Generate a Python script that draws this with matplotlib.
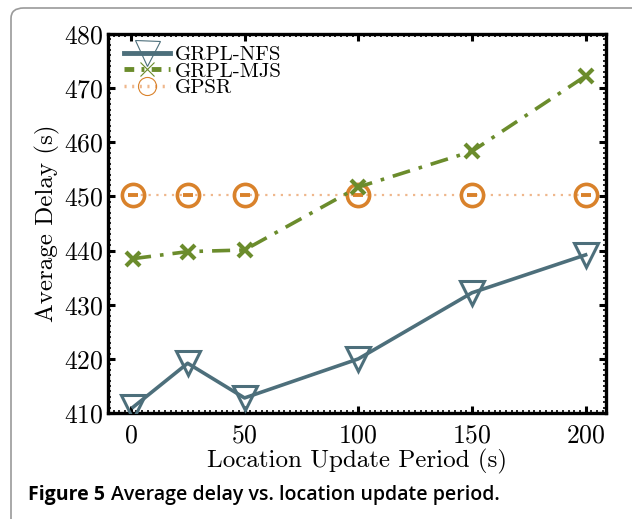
import matplotlib
matplotlib.use("Agg")
import matplotlib.pyplot as plt
from matplotlib.patches import FancyBboxPatch
from matplotlib.ticker import MultipleLocator

# data
periods = [1, 25, 50, 100, 150, 200]
nfs = [411.1, 419.2, 412.8, 420.0, 432.2, 439.2]
mjs = [438.5, 439.8, 440.1, 451.7, 458.3, 472.2]
gpsr = [450.2, 450.2, 450.2, 450.2, 450.2, 450.2]

plt.rcParams['font.family'] = 'cmr10'
plt.rcParams['axes.formatter.use_mathtext'] = True

fig = plt.figure(figsize=(6.32, 5.19), dpi=100)
ax = fig.add_axes([0.171, 0.204, 0.788, 0.731])

c_nfs = "#4d6f7b"
c_mjs = "#6b8c2c"
c_gpsr = "#d9822b"

ax.plot(periods, gpsr, linestyle=(0, (1, 2.5)), color="#efb78c", lw=1.6, zorder=2)
ax.plot(periods, gpsr, linestyle="none", marker="o", ms=16, mfc="none",
        mec=c_gpsr, mew=2.6, zorder=3)
ax.plot(periods, gpsr, linestyle="none", marker="_", ms=7, mec=c_gpsr,
        mew=2.8, zorder=3)
ax.plot(periods, mjs, linestyle=(0, (5, 2.5, 1, 2.5)), color=c_mjs, lw=2.6,
        marker="x", ms=10, mew=3, zorder=4)
ax.plot(periods, nfs, linestyle="-", color=c_nfs, lw=2.6, marker="v", ms=17,
        mfc="none", mew=2.2, zorder=5)

# legend proxies
h1, = ax.plot([], [], "-", color=c_nfs, lw=3.5, marker="v", ms=18, mfc="none", mew=0.8)
h2, = ax.plot([], [], linestyle=(0, (2, 1.5, 0.6, 1.5)), color=c_mjs, lw=3.5,
              marker="x", ms=10, mew=0.8)
h3, = ax.plot([], [], linestyle=(0, (0.6, 1.6)), color="#efb78c", lw=2.5,
              marker="o", ms=13, mfc="none", mec=c_gpsr, mew=0.8)
ax.legend([h1, h2, h3], ["GRPL-NFS", "GRPL-MJS", "GPSR"], loc="upper left",
          frameon=False, fontsize=15, handlelength=2.2, handletextpad=0.25,
          labelspacing=-0.1, borderaxespad=0.35, bbox_to_anchor=(0.0, 1.01))

ax.set_xlim(-10, 209)
ax.set_ylim(410, 480)
ax.set_xticks([0, 50, 100, 150, 200])
ax.set_yticks([410, 420, 430, 440, 450, 460, 470, 480])
ax.xaxis.set_minor_locator(MultipleLocator(2.5))
ax.yaxis.set_minor_locator(MultipleLocator(1))
ax.tick_params(which="major", direction="in", length=5, width=2.2,
               top=True, right=True, labelsize=18.5)
ax.tick_params(axis="y", which="major", pad=3)
ax.tick_params(axis="x", which="major", pad=8)
ax.tick_params(which="minor", direction="in", length=2.2, width=1.2,
               top=True, right=True)
for s in ax.spines.values():
    s.set_linewidth(2.4)

ax.set_xlabel("Location Update Period (s)", fontsize=18, labelpad=1)
ax.set_ylabel("Average Delay (s)", fontsize=18, labelpad=3)

# page frame and caption
frame = FancyBboxPatch((11 / 632, -0.1), 1.2, 1.1 - 8 / 519,
                       boxstyle="round,pad=0,rounding_size=0.02",
                       transform=fig.transFigure, fill=False,
                       edgecolor="#9a9a9a", lw=1.2, clip_on=False)
fig.patches.append(frame)
fig.text(28 / 632, 1 - 495 / 519, "Figure 5", fontsize=14, fontweight="bold",
         family="Open Sans", va="center", ha="left")
fig.text(111 / 632, 1 - 495 / 519, "Average delay vs. location update period.",
         fontsize=14, family="Open Sans", fontweight="semibold",
         va="center", ha="left")

fig.savefig("out.png", dpi=100)
